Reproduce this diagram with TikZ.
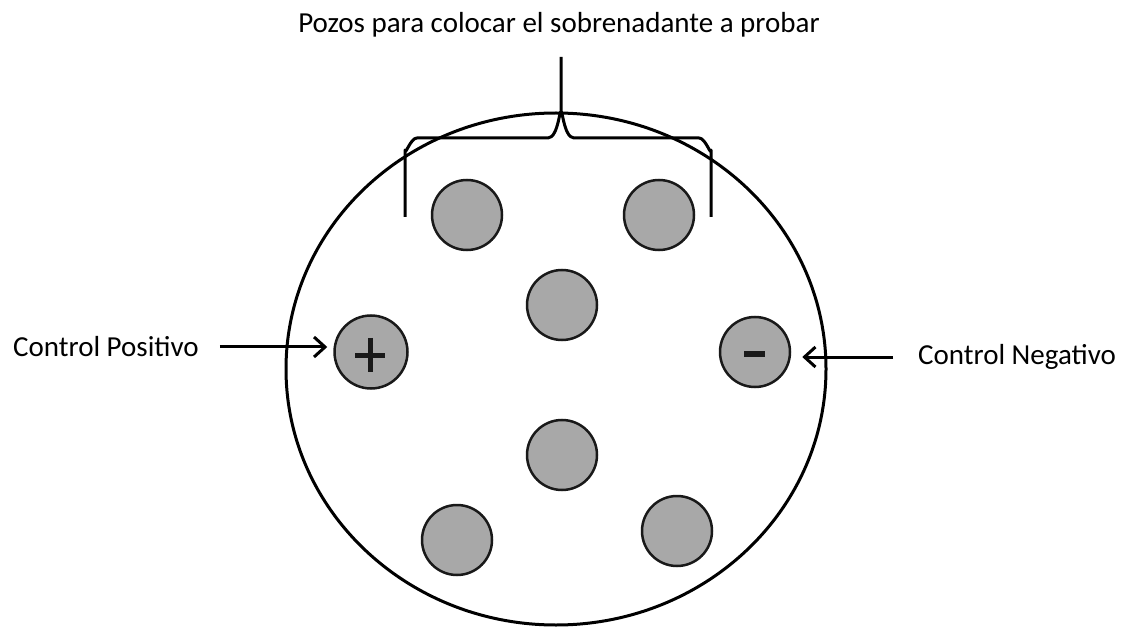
\documentclass[tikz,border=0pt]{standalone}
\usepackage{fontspec}
\setmainfont{Carlito}
\usetikzlibrary{arrows.meta}
\begin{document}
\begin{tikzpicture}[x=1pt,y=-1pt,
  lbl/.style={inner sep=0pt, font=\fontsize{29}{34}\selectfont},
  well/.style={circle, minimum size=70pt, inner sep=0pt, fill=black!34, draw=black!90, line width=2.5pt},
  ink/.style={line width=3pt, black},
  sign/.style={line width=5pt, black!90},
  arr/.style={ink, -{Straight Barb[length=11pt,width=20pt,line width=3pt]}},
  plate/.style={line width=3pt, black}
]
\useasboundingbox (0,0) rectangle (1130,628);
% plate
\node[draw=none, inner sep=0pt, minimum width=540pt, minimum height=512pt] (plate) at (556,369) {};
\draw[plate] (plate.center) ellipse [x radius=270pt, y radius=256pt];
% wells
\node[well] (w1) at (467,215) {};
\node[well] (w2) at (659,215) {};
\node[well] (w3) at (562,305) {};
\node[well] (w4) at (562,455) {};
\node[well] (w5) at (457,540) {};
\node[well] (w6) at (677,531) {};
\node[well, minimum size=73pt] (wpos) at (371,352) {};
\node[well] (wneg) at (755,352) {};
% signs
\draw[sign] ([xshift=-16pt,yshift=-3pt]wpos.center) -- ([xshift=14pt,yshift=-3pt]wpos.center);
\draw[sign] ([xshift=-1pt,yshift=14pt]wpos.center) -- ([xshift=-1pt,yshift=-20pt]wpos.center);
\draw[sign] ([xshift=-11pt,yshift=-2pt]wneg.center) -- ([xshift=10pt,yshift=-2pt]wneg.center);
% labels
\node[lbl, anchor=base] (title) at (559,33) {Pozos para colocar el sobrenadante a probar};
\node[lbl, anchor=west] (lpos) at (13,347) {Control Positivo};
\node[lbl, anchor=west] (lneg) at (918,357) {Control Negativo};
% brace
\coordinate (btop) at (561,57);
\coordinate (bcusp) at (561,114);
\coordinate (bl) at (405,217);
\coordinate (br) at (711,217);
\draw[ink, line join=round] (bl) -- (405,150) to[out=-90,in=180] (417,138) -- (548,138)
   to[out=0,in=95] (bcusp) -- (btop);
\draw[ink, line join=round] (br) -- (711,150) to[out=-90,in=0] (699,138) -- (574,138)
   to[out=180,in=85] (bcusp);
% arrows
\draw[arr, shorten <=21pt, shorten >=6pt] (lpos.east) -- (lpos.east -| wpos.west);
\draw[arr, shorten <=25pt, shorten >=11pt] (lneg.west) -- (lneg.west -| wneg.east);
\end{tikzpicture}
\end{document}
